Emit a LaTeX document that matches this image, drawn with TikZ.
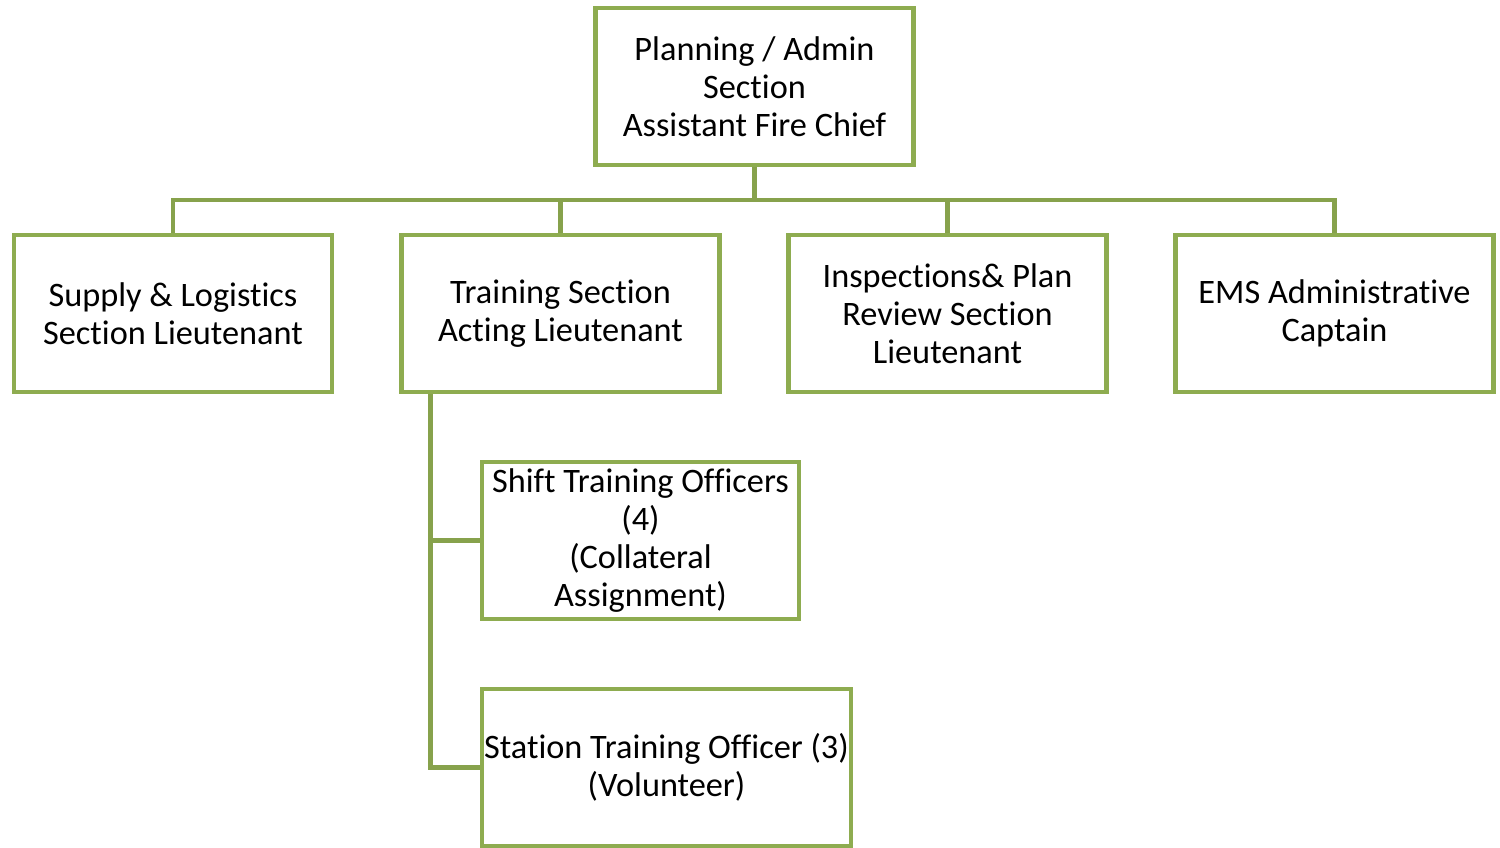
\documentclass[tikz,border=0pt]{standalone}
\usepackage{fontspec}
\setmainfont[Ligatures=NoCommon]{Carlito}
\usepackage{tikz}
\usetikzlibrary{positioning,calc}
\definecolor{boxgreen}{HTML}{8EAC50}
\definecolor{linegreen}{HTML}{87A24C}
\tikzset{
  orgbox/.style={rectangle, draw=boxgreen, line width=4.5pt, fill=white, align=center,
                 minimum width=#1, minimum height=157pt, inner sep=0pt,
                 font=\fontsize{34.3}{38}\selectfont},
  orgbox/.default=318pt,
  conn/.style={draw=linegreen, line width=4.5pt},
}

\begin{document}
\begin{tikzpicture}[x=1pt, y=-1pt]
\useasboundingbox (0,0) rectangle (1500,848);
\node[orgbox] (chief) at (754.5,86.5) {Planning / Admin\\Section\\Assistant Fire Chief};
\node[orgbox] (supply) at (173,313.5) {Supply \& Logistics\\Section Lieutenant};
\node[orgbox] (train) at (560.5,313.5) {Training Section\\Acting Lieutenant};
\node[orgbox] (insp) at (947.5,313.5) {Inspections\& Plan\\Review Section\\Lieutenant};
\node[orgbox] (ems) at (1334.5,313.5) {EMS Administrative\\Captain};
\node[orgbox=317pt] (shift) at (640.5,540.5) {Shift Training Officers\\(4)\\(Collateral\\Assignment)};
\node[orgbox=369pt] (station) at (666.5,767.5) {Station Training Officer (3)\\(Volunteer)};
% bus under the chief
\coordinate (bus) at (0,200);
\foreach \n in {supply,train,insp,ems}
  \draw[conn] (chief.south) |- (bus -| \n.north) -- (\n.north);
% trunk down from training
\coordinate (trunk) at ($(train.south west)+(31,0)$);
\draw[conn] (trunk) |- (shift.west);
\draw[conn] (trunk) |- (station.west);
\end{tikzpicture}
\end{document}
